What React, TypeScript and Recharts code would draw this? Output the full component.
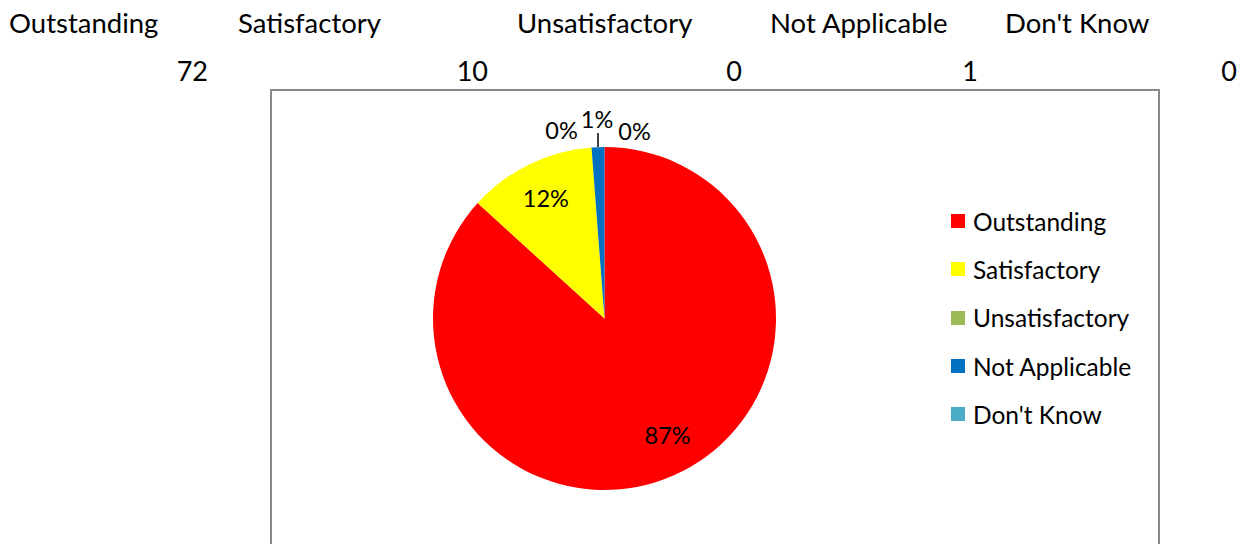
import React from 'react';
import { PieChart, Pie, Cell, Legend } from 'recharts';

const categories = ['Outstanding', 'Satisfactory', 'Unsatisfactory', 'Not Applicable', "Don't Know"];
const counts = [72, 10, 0, 1, 0];
const colors = ['#FF0000', '#FFFF00', '#9BBB59', '#0070C0', '#4BACC6'];

// layout for the header table (left edge of names, right edge of counts)
const headerNameX = [9, 238, 517, 770, 1005];
const headerCountRight = [208, 488, 742, 978, 1237];
// label offsets: inside labels (relative to 0.78r point), outside labels for tiny slices (relative to edge point)
const insideOffsets: Record<number, [number, number]> = { 0: [9, -6], 1: [0, 0] };
const smallOffsets: Record<number, [number, number]> = { 2: [-30, -17], 3: [-1, -28], 4: [30, -16] };

const FONT = 'Lato, "Open Sans", sans-serif';
const data = categories.map((name, i) => ({ name, value: counts[i] }));
const RAD = Math.PI / 180;

const renderLabel = (p: any) => {
  const { cx, cy, midAngle, outerRadius, percent, index } = p;
  const txt = `${Math.round(percent * 100)}%`;
  const cos = Math.cos(-midAngle * RAD);
  const sin = Math.sin(-midAngle * RAD);
  if (percent >= 0.05) {
    const r = outerRadius * 0.78;
    const off = insideOffsets[index] || [0, 0];
    return (
      <text key={`l${index}`} x={cx + r * cos + off[0]} y={cy + r * sin + off[1]} fill="#000" fontSize={23.5} fontFamily={FONT} textAnchor="middle" dominantBaseline="central">
        {txt}
      </text>
    );
  }
  const ex = cx + outerRadius * cos;
  const ey = cy + outerRadius * sin;
  const off = smallOffsets[index] || [0, -20];
  return (
    <g key={`l${index}`}>
      {index === 3 && <line x1={ex} y1={ey} x2={ex} y2={ey - 14} stroke="#000" strokeWidth={1.5} />}
      <text x={ex + off[0]} y={ey + off[1]} fill="#000" fontSize={23.5} fontFamily={FONT} textAnchor="middle" dominantBaseline="central">
        {txt}
      </text>
    </g>
  );
};

const LegendContent = () => (
  <div style={{ fontFamily: FONT, fontSize: 24.5, color: '#000' }}>
    {categories.map((c, i) => (
      <div key={c} style={{ height: 48.3, display: 'flex', alignItems: 'center' }}>
        <span style={{ display: 'inline-block', width: 14, height: 14, background: colors[i], marginRight: 8 }} />
        <span>{c}</span>
      </div>
    ))}
  </div>
);

export default function App() {
  return (
    <div style={{ position: 'absolute', left: 0, top: 0, width: 1241, height: 544, overflow: 'hidden', background: '#fff' }}>
      <svg width={1241} height={544} style={{ position: 'absolute', left: 0, top: 0 }}>
        {categories.map((c, i) => (
          <text key={`h${i}`} x={headerNameX[i]} y={33} fontSize={27.5} fontFamily={FONT} fill="#000">{c}</text>
        ))}
        {counts.map((v, i) => (
          <text key={`n${i}`} x={headerCountRight[i]} y={81} fontSize={27} fontFamily={FONT} fill="#000" textAnchor="end">{v}</text>
        ))}
        <rect x={271} y={90} width={888} height={500} fill="#fff" stroke="#898989" strokeWidth={2} />
      </svg>
      <div style={{ position: 'absolute', left: 0, top: 0 }}>
        <PieChart width={1241} height={544} margin={{ top: 0, right: 0, bottom: 0, left: 0 }}>
          <Pie
            data={data}
            dataKey="value"
            nameKey="name"
            cx={604.5}
            cy={318.5}
            outerRadius={171.5}
            startAngle={90}
            endAngle={-270}
            stroke="none"
            label={renderLabel}
            labelLine={false}
            isAnimationActive={false}
          >
            {data.map((d, i) => (
              <Cell key={d.name} fill={colors[i]} />
            ))}
          </Pie>
          <Legend content={<LegendContent />} wrapperStyle={{ position: 'absolute', left: 951, top: 197, width: 220 }} />
        </PieChart>
      </div>
    </div>
  );
}
